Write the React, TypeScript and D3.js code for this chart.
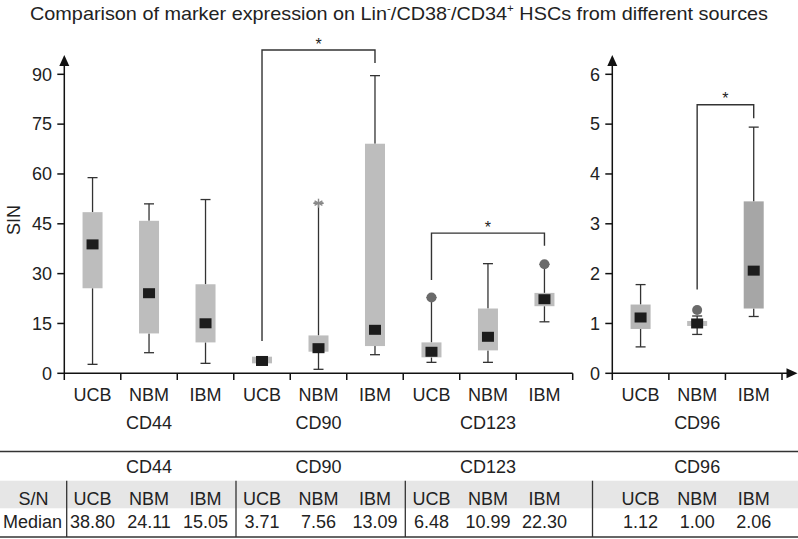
import React from "react";
import * as d3 from "d3";

const groups = ["CD44", "CD90", "CD123", "CD96"];
const sources = ["UCB", "NBM", "IBM"];

// per group, per source (UCB, NBM, IBM)
const whiskerLow = [[2.7, 6.2, 3.0], [3.0, 1.2, 5.6], [3.3, 3.3, 15.5], [0.53, 0.78, 1.14]];
const quartile1 = [[25.6, 12.0, 9.3], [3.0, 6.5, 8.2], [4.8, 6.9, 20.2], [0.89, 0.95, 1.3]];
const medians = [[38.8, 24.11, 15.05], [3.71, 7.56, 13.09], [6.48, 10.99, 22.3], [1.12, 1.0, 2.06]];
const quartile3 = [[48.5, 45.9, 26.8], [5.0, 11.4, 69.1], [9.3, 19.5, 24.2], [1.38, 1.05, 3.45]];
const whiskerHigh = [[58.9, 51.0, 52.3], [5.0, 51.2, 89.6], [22.8, 33.0, 32.8], [1.78, 1.15, 4.94]];
// outliers: [group, source, value, shape]
const outliers: [number, number, number, string][] = [
  [1, 1, 51.2, "star"],
  [2, 0, 22.8, "circle"],
  [2, 2, 32.8, "circle"],
  [3, 1, 1.27, "circle"],
];
// brackets: [group, fromSource, toSource, yFrom, yTop, yTo]
const brackets: [number, number, number, number, number, number][] = [
  [1, 0, 2, 9.7, 97.3, 93.4],
  [2, 0, 2, 28.1, 42.2, 38.4],
  [3, 1, 2, 1.68, 5.39, 5.12],
];
const leftTicks = [0, 15, 30, 45, 60, 75, 90];
const rightTicks = [0, 1, 2, 3, 4, 5, 6];

const FONT = "'Liberation Sans', Arial, Helvetica, sans-serif";
const TXT = "#222";
const LINE = "#333";

export default function App() {
  const W = 798, H = 539;
  const y0 = 373.3, yTopPx = 74.3;
  const yLeft = d3.scaleLinear().domain([0, 90]).range([y0, yTopPx]);
  const yRight = d3.scaleLinear().domain([0, 6]).range([y0, yTopPx]);
  const leftKeys: string[] = [];
  for (let g = 0; g < 3; g++) for (const s of sources) leftKeys.push(groups[g] + "|" + s);
  const xLeft = d3.scaleBand<string>().domain(leftKeys).range([64.3, 572.7]).padding(0);
  const rightKeys = sources.map((s) => groups[3] + "|" + s);
  const xRight = d3.scaleBand<string>().domain(rightKeys).range([612.3, 782]).padding(0);

  const xOf = (g: number, s: number) => {
    const key = groups[g] + "|" + sources[s];
    const sc = g === 3 ? xRight : xLeft;
    return (sc(key) as number) + sc.bandwidth() / 2;
  };
  const yOf = (g: number) => (g === 3 ? yRight : yLeft);

  const boxFill = (g: number, s: number) => {
    if (g === 3 && s === 2) return "#a6a6a6";
    if (g === 3 && s === 0) return "#b6b6b6";
    return "#bdbdbd";
  };

  const boxW = 20, capW = 10, medW = 12, medH = 10;

  const elems: React.ReactNode[] = [];
  groups.forEach((gName, g) => {
    sources.forEach((sName, s) => {
      const cx = xOf(g, s);
      const y = yOf(g);
      const lo = whiskerLow[g][s], q1 = quartile1[g][s], md = medians[g][s], q3 = quartile3[g][s], hi = whiskerHigh[g][s];
      const k = `${g}-${s}`;
      if (hi > q3) {
        elems.push(<line key={k + "wh"} x1={cx} x2={cx} y1={y(q3)} y2={y(hi)} stroke={LINE} strokeWidth={1.3} />);
        elems.push(<line key={k + "ch"} x1={cx - capW / 2} x2={cx + capW / 2} y1={y(hi)} y2={y(hi)} stroke={LINE} strokeWidth={1.3} />);
      }
      if (lo < q1) {
        elems.push(<line key={k + "wl"} x1={cx} x2={cx} y1={y(q1)} y2={y(lo)} stroke={LINE} strokeWidth={1.3} />);
        elems.push(<line key={k + "cl"} x1={cx - capW / 2} x2={cx + capW / 2} y1={y(lo)} y2={y(lo)} stroke={LINE} strokeWidth={1.3} />);
      }
      elems.push(<rect key={k + "b"} x={cx - boxW / 2} width={boxW} y={y(q3)} height={y(q1) - y(q3)} fill={boxFill(g, s)} />);
      elems.push(<rect key={k + "m"} x={cx - medW / 2} width={medW} y={y(md) - medH / 2} height={medH} fill="#1c1c1c" />);
    });
  });

  outliers.forEach(([g, s, v, shape], i) => {
    const cx = xOf(g, s);
    const cy = yOf(g)(v);
    if (shape === "circle") {
      elems.push(<circle key={"o" + i} cx={cx} cy={cy} r={5} fill="#6a6a6a" />);
    } else {
      const r = 4.5;
      const lines = [0, 60, 120].map((a) => {
        const rad = (a * Math.PI) / 180;
        return <line key={"os" + i + a} x1={cx - r * Math.sin(rad)} y1={cy - r * Math.cos(rad)} x2={cx + r * Math.sin(rad)} y2={cy + r * Math.cos(rad)} stroke="#8a8a8a" strokeWidth={1.4} />;
      });
      elems.push(<g key={"o" + i}>{lines}<line x1={cx - r} x2={cx + r} y1={cy} y2={cy} stroke="#8a8a8a" strokeWidth={1.4} /></g>);
    }
  });

  brackets.forEach(([g, s1, s2, yA, yT, yB], i) => {
    const y = yOf(g);
    const x1 = xOf(g, s1), x2 = xOf(g, s2);
    elems.push(
      <path key={"br" + i} d={`M${x1},${y(yA)}V${y(yT)}H${x2}V${y(yB)}`} fill="none" stroke={LINE} strokeWidth={1.4} />
    );
    elems.push(
      <text key={"bs" + i} x={(x1 + x2) / 2} y={y(yT) - 0.5} textAnchor="middle" fontSize={16} fill={TXT}>*</text>
    );
  });

  // table geometry
  const sepX = [66.7, 236, 405.3, 592.5];
  const tableTop = 451.5, bandTop = 480.7, bandBot = 508.3, tableBot = 537;

  return (
    <svg width={W} height={H} style={{ position: "absolute", left: 0, top: 0, background: "#fff" }} fontFamily={FONT}>
      <rect width={W} height={H} fill="#fff" />
      <text x={399} y={20} textAnchor="middle" fontSize={19} fill={TXT} textLength={738} lengthAdjust="spacingAndGlyphs">
        Comparison of marker expression on Lin
        <tspan dy={-8} fontSize={11}>-</tspan>
        <tspan dy={8}>/CD38</tspan>
        <tspan dy={-8} fontSize={11}>-</tspan>
        <tspan dy={8}>/CD34</tspan>
        <tspan dy={-8} fontSize={11}>+</tspan>
        <tspan dy={8}> HSCs from different sources</tspan>
      </text>

      {/* left axes */}
      <line x1={64.3} x2={64.3} y1={65} y2={380} stroke="#111" strokeWidth={1.5} />
      <path d="M64.3,55L59.3,66L69.3,66Z" fill="#111" />
      <line x1={64.3} x2={572.7} y1={y0} y2={y0} stroke="#111" strokeWidth={1.5} />
      {leftTicks.map((t) => (
        <g key={"lt" + t}>
          <line x1={57.3} x2={64.3} y1={yLeft(t)} y2={yLeft(t)} stroke="#111" strokeWidth={1.5} />
          <text x={52} y={yLeft(t) + 6.3} textAnchor="end" fontSize={18} fill={TXT}>{t}</text>
        </g>
      ))}
      {leftKeys.map((k, i) => (
        <line key={"lxt" + i} x1={(xLeft(k) as number) + xLeft.bandwidth()} x2={(xLeft(k) as number) + xLeft.bandwidth()} y1={y0} y2={380} stroke="#111" strokeWidth={1.5} />
      ))}
      <text transform="translate(20,220) rotate(-90)" textAnchor="middle" fontSize={18} fill={TXT}>SIN</text>

      {/* right axes */}
      <line x1={612.3} x2={612.3} y1={65} y2={380} stroke="#111" strokeWidth={1.5} />
      <path d="M612.3,55L607.3,66L617.3,66Z" fill="#111" />
      <line x1={612.3} x2={788} y1={y0} y2={y0} stroke="#111" strokeWidth={1.5} />
      <path d="M797.5,373.3L786.5,368.3L786.5,378.3Z" fill="#111" />
      {rightTicks.map((t) => (
        <g key={"rt" + t}>
          <line x1={605.3} x2={612.3} y1={yRight(t)} y2={yRight(t)} stroke="#111" strokeWidth={1.5} />
          <text x={600} y={yRight(t) + 6.3} textAnchor="end" fontSize={18} fill={TXT}>{t}</text>
        </g>
      ))}
      {rightKeys.map((k, i) => (
        <line key={"rxt" + i} x1={(xRight(k) as number) + xRight.bandwidth()} x2={(xRight(k) as number) + xRight.bandwidth()} y1={y0} y2={380} stroke="#111" strokeWidth={1.5} />
      ))}

      {/* x labels */}
      {groups.map((gName, g) => (
        <g key={"xl" + g}>
          {sources.map((s, si) => (
            <text key={s} x={xOf(g, si)} y={400.5} textAnchor="middle" fontSize={18} fill={TXT}>{s}</text>
          ))}
          <text x={xOf(g, 1)} y={429} textAnchor="middle" fontSize={18} fill={TXT}>{gName}</text>
        </g>
      ))}

      {elems}

      {/* table */}
      <rect x={0} y={bandTop} width={W} height={bandBot - bandTop} fill="#e6e6e6" />
      <line x1={0} x2={W} y1={tableTop} y2={tableTop} stroke={LINE} strokeWidth={1.3} />
      <line x1={0} x2={W} y1={tableBot} y2={tableBot} stroke={LINE} strokeWidth={1.3} />
      {sepX.map((x, i) => (
        <line key={"sep" + i} x1={x} x2={x} y1={bandTop} y2={tableBot} stroke={LINE} strokeWidth={1.3} />
      ))}
      <text x={33.5} y={505} textAnchor="middle" fontSize={18} fill={TXT}>S/N</text>
      <text x={32.5} y={528} textAnchor="middle" fontSize={18} fill={TXT}>Median</text>
      {groups.map((gName, g) => (
        <g key={"tb" + g}>
          <text x={xOf(g, 1)} y={473} textAnchor="middle" fontSize={18} fill={TXT}>{gName}</text>
          {sources.map((s, si) => (
            <g key={s}>
              <text x={xOf(g, si)} y={505} textAnchor="middle" fontSize={18} fill={TXT}>{s}</text>
              <text x={xOf(g, si)} y={528} textAnchor="middle" fontSize={18} fill={TXT}>{medians[g][si].toFixed(2)}</text>
            </g>
          ))}
        </g>
      ))}
    </svg>
  );
}
